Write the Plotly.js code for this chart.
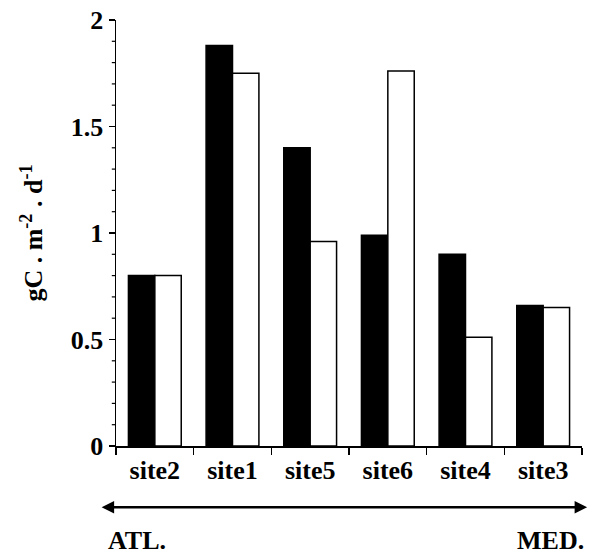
<!DOCTYPE html>
<html>
<head>
<meta charset="utf-8">
<script src="https://cdn.plot.ly/plotly-3.0.1.min.js"></script>
<style>
  html, body { margin: 0; padding: 0; background: #fff; }
  #chart { width: 594px; height: 555px; }
</style>
</head>
<body>
<div id="chart"></div>
<script>
// Sites ordered from the Atlantic side to the Mediterranean side
const sites = ['site2', 'site1', 'site5', 'site6', 'site4', 'site3'];
// Daily carbon flux, gC . m-2 . d-1
const filledValues = [0.80, 1.88, 1.40, 0.99, 0.90, 0.66];
const openValues   = [0.80, 1.75, 0.96, 1.76, 0.51, 0.65];
// Labelled y ticks, with unlabelled minor ticks every 0.1 between them
const yTickValues = [0, 0.5, 1, 1.5, 2];
const yTickLabels = ['0', '0.5', '1', '1.5', '2'];
const yMinorStep = 0.1;

const serif = 'Liberation Serif, Times New Roman, serif';
const yRange = [yTickValues[0], yTickValues[yTickValues.length - 1]];

// Short outside tick marks for the unlabelled minor steps of the y axis
const minorTickShapes = [];
const nSteps = Math.round((yRange[1] - yRange[0]) / yMinorStep);
for (let i = 1; i < nSteps; i++) {
  const v = +(yRange[0] + i * yMinorStep).toFixed(6);
  if (yTickValues.some(t => Math.abs(t - v) < 1e-6)) continue;
  minorTickShapes.push({
    type: 'line', layer: 'above',
    xref: 'paper', yref: 'y', x0: -0.009, x1: 0, y0: v, y1: v,
    line: { color: '#000', width: 1.2 }
  });
}

const traces = [
  {
    type: 'bar', x: sites, y: filledValues, name: 'filled',
    marker: { color: '#000', line: { color: '#000', width: 1.5 } },
    hoverinfo: 'x+y'
  },
  {
    type: 'bar', x: sites, y: openValues, name: 'open',
    marker: { color: '#fff', line: { color: '#000', width: 1.5 } },
    hoverinfo: 'x+y'
  }
];

const layout = {
  width: 594, height: 555,
  margin: { l: 116, r: 12, t: 19.5, b: 109.3 },
  paper_bgcolor: '#fff', plot_bgcolor: '#fff',
  showlegend: false,
  barmode: 'group', bargap: 0.32, bargroupgap: 0,
  font: { family: serif, color: '#000' },
  xaxis: {
    type: 'category',
    showline: true, linecolor: '#000', linewidth: 1.5,
    ticks: 'outside', tickson: 'boundaries', ticklen: 7, tickwidth: 1.5, tickcolor: '#000',
    tickfont: { family: serif, size: 26, weight: 'bold', color: '#000' },
    showgrid: false, zeroline: false, fixedrange: true
  },
  yaxis: {
    range: yRange,
    tickmode: 'array', tickvals: yTickValues, ticktext: yTickLabels,
    showline: true, linecolor: '#000', linewidth: 1.5,
    ticks: 'outside', ticklen: 6, tickwidth: 1.5, tickcolor: '#000',
    tickfont: { family: serif, size: 26, weight: 'bold', color: '#000' },
    showgrid: false, zeroline: false, fixedrange: true,
    title: {
      text: 'gC . m<sup>-2</sup> . d<sup>-1</sup>',
      font: { family: serif, size: 26, weight: 'bold', color: '#000' },
      standoff: 20
    }
  },
  shapes: minorTickShapes,
  annotations: [
    {
      // Atlantic to Mediterranean gradient arrow
      xref: 'paper', yref: 'paper', x: 1.011, y: -0.1438,
      ax: -487, ay: 0, text: '', showarrow: true,
      arrowside: 'end+start', arrowhead: 2, arrowsize: 1, arrowwidth: 2.5, arrowcolor: '#000'
    },
    {
      xref: 'paper', yref: 'paper', x: 0.045, y: -0.221,
      xanchor: 'center', yanchor: 'middle', showarrow: false,
      text: 'ATL.', font: { family: serif, size: 26, weight: 'bold', color: '#000' }
    },
    {
      xref: 'paper', yref: 'paper', x: 0.932, y: -0.221,
      xanchor: 'center', yanchor: 'middle', showarrow: false,
      text: 'MED.', font: { family: serif, size: 26, weight: 'bold', color: '#000' }
    }
  ]
};

Plotly.newPlot('chart', traces, layout, { displayModeBar: false, staticPlot: true });
</script>
</body>
</html>
